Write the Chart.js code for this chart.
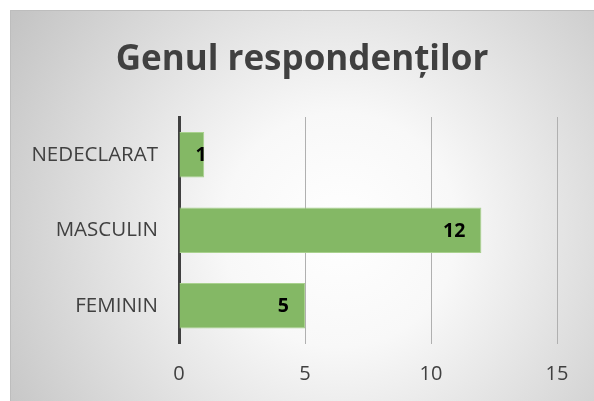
<!DOCTYPE html>
<html>
<head>
<meta charset="utf-8">
<script src="https://cdn.jsdelivr.net/npm/chart.js"></script>
<style>
  html, body { margin: 0; padding: 0; background: #ffffff; }
  #wrap { width: 594px; height: 401px; position: relative; }
</style>
</head>
<body>
<div id="wrap"><canvas id="genderChart" width="594" height="401"></canvas></div>
<script>
const categories = ["NEDECLARAT", "MASCULIN", "FEMININ"];
const respondents = [1, 12, 5];
const chartTitle = "Genul respondenților";
const xTicks = [0, 5, 10, 15];

const fontFamily = "'Open Sans', 'Noto Sans', sans-serif";
const textColor = "#404040";

// Gray radial backdrop with a thin frame, like the Office chart style
const backdrop = {
  id: "backdrop",
  beforeDraw(chart) {
    const ctx = chart.ctx;
    const w = chart.width;
    const h = chart.height;
    ctx.save();
    ctx.fillStyle = "#ffffff";
    ctx.fillRect(0, 0, w, h);
    const g = ctx.createRadialGradient(340, 230, 0, 340, 230, 390);
    g.addColorStop(0, "#ffffff");
    g.addColorStop(0.3, "#f8f8f8");
    g.addColorStop(1, "#c4c4c4");
    ctx.fillStyle = g;
    ctx.fillRect(10, 10, w - 10, h - 10);
    ctx.strokeStyle = "#bdbdbd";
    ctx.lineWidth = 1;
    ctx.beginPath();
    ctx.moveTo(10.5, h);
    ctx.lineTo(10.5, 10.5);
    ctx.lineTo(w, 10.5);
    ctx.stroke();
    ctx.restore();
  },
};

// Value labels at the inside end of each bar
const barValues = {
  id: "barValues",
  afterDatasetsDraw(chart) {
    const ctx = chart.ctx;
    const meta = chart.getDatasetMeta(0);
    ctx.save();
    ctx.font = "bold 19.5px " + fontFamily;
    ctx.fillStyle = "#000000";
    ctx.textBaseline = "middle";
    ctx.textAlign = "left";
    meta.data.forEach((bar, i) => {
      const text = String(respondents[i]);
      const tw = ctx.measureText(text).width;
      let left = bar.x - 16 - tw;
      left = Math.max(left, bar.base + 16);
      ctx.fillText(text, left, bar.y + 1);
    });
    ctx.restore();
  },
};

new Chart(document.getElementById("genderChart"), {
  type: "bar",
  data: {
    labels: categories,
    datasets: [
      {
        data: respondents,
        backgroundColor: "#84b865",
        borderColor: "#a9d18e",
        borderWidth: 1,
        barPercentage: 0.6,
        categoryPercentage: 1,
      },
    ],
  },
  options: {
    indexAxis: "y",
    responsive: false,
    animation: false,
    devicePixelRatio: 1,
    layout: { padding: { left: 10, top: 10, right: 0, bottom: 0 } },
    plugins: {
      legend: { display: false },
      tooltip: { enabled: false },
      title: {
        display: true,
        text: chartTitle,
        color: textColor,
        font: { family: fontFamily, size: 35, weight: "bold" },
        padding: { top: 29, bottom: 36 },
      },
    },
    scales: {
      x: {
        min: 0,
        max: 15,
        afterBuildTicks(scale) {
          scale.ticks = xTicks.map((v) => ({ value: v }));
        },
        afterFit(scale) {
          scale.height = 57.5;
        },
        border: { display: false },
        grid: {
          drawTicks: false,
          tickLength: 0,
          lineWidth: 1,
          color: (c) => (c.tick && c.tick.value === 0 ? "rgba(0,0,0,0)" : "#b0b0b0"),
        },
        ticks: {
          padding: 19,
          color: textColor,
          font: { family: fontFamily, size: 20 },
        },
      },
      y: {
        afterFit(scale) {
          scale.width = 169;
        },
        border: { display: true, color: "#404040", width: 3 },
        grid: { display: false, drawTicks: false },
        ticks: {
          padding: 21,
          color: textColor,
          font: { family: fontFamily, size: 20.5 },
        },
      },
      // empty spacer on the right so the plot ends where the reference does
      yRight: {
        type: "category",
        position: "right",
        afterFit(scale) {
          scale.width = 37;
        },
        border: { display: false },
        grid: { display: false, drawTicks: false },
        ticks: { display: false },
      },
    },
  },
  plugins: [backdrop, barValues],
});
</script>
</body>
</html>
